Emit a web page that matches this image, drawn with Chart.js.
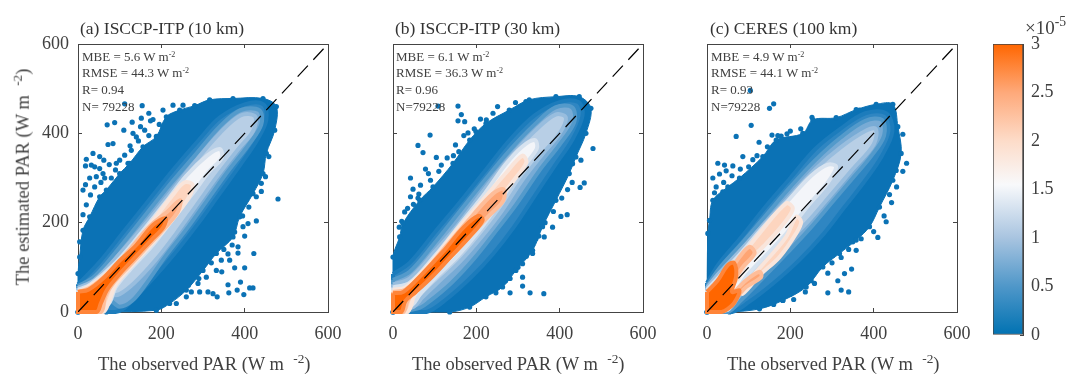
<!DOCTYPE html>
<html lang="en">

<head>
    <meta charset="UTF-8">
    <title>PAR scatter density</title>
    <script src="https://cdn.jsdelivr.net/npm/chart.js@4.4.1/dist/chart.umd.min.js"></script>
    <style>
        body { margin: 0; background: #fff; font-family: "Liberation Serif", serif; color: #404040; }
        #page { position: relative; width: 1069px; height: 374px; overflow: hidden; }
        canvas { position: absolute; top: 0; }
        .txt { position: absolute; white-space: nowrap; line-height: 1; }
        .txt sup { font-size: 62%; line-height: 0; vertical-align: 0.55em; }
        .title { font-size: 17.5px; color: #333; }
        .stat { font-size: 13px; }
        .axis-title { font-size: 18.5px; }
        .axis-title sup, .scale-note sup { font-size: 72%; }
        .scale-note { font-size: 19px; }
    </style>
</head>

<body>
    <div id="page"></div>

    <script>
        // tick labels
        const axisTicks = [0, 200, 400, 600];
        const cbarTicks = [0, 0.5, 1, 1.5, 2, 2.5, 3];

        // panel texts
        const panelTitles = ['(a) ISCCP-ITP (10 km)', '(b) ISCCP-ITP (30 km)', '(c) CERES (100 km)'];
        const statsA = ['MBE = 5.6 W m<sup>-2</sup>', 'RMSE = 44.3 W m<sup>-2</sup>', 'R= 0.94', 'N= 79228'];
        const statsB = ['MBE = 6.1 W m<sup>-2</sup>', 'RMSE = 36.3 W m<sup>-2</sup>', 'R= 0.96', 'N=79228'];
        const statsC = ['MBE = 4.9 W m<sup>-2</sup>', 'RMSE = 44.1 W m<sup>-2</sup>', 'R= 0.93', 'N=79228'];

        // density colours, outer band to inner band, and the softer edge of each band
        const levelColors = ['#0b72b5', '#2f86c2', '#78abd5', '#b8cfe6', '#f3f5f9', '#fdd5bf', '#fea574', '#ff6600'];
        const edgeColors = ['#0b72b5', '#1c7cbc', '#539acb', '#98bdde', '#d6e2ef', '#f9e5db', '#febd99', '#ff8539'];
        const cbarStops = [[0, '#0072b2'], [0.5, '#4f97c9'], [1, '#a8c4e0'], [1.55, '#f8f9fb'], [2, '#fddcc9'], [2.5, '#fea97a'], [3, '#ff6600']];
        const oneToOne = [[0, 0], [600, 600]];

        // panel a : density outlines
        const a0 = [[0,0],[0,86],[4,123],[12,183],[28,213],[52,258],[68,273],[100,310],[124,333],[156,370],[188,393],[212,437],[244,452],[280,462],[316,475],[372,478],[444,478],[476,460],[472,407],[452,355],[444,310],[420,265],[388,213],[372,168],[332,131],[300,93],[260,49],[220,19],[188,4],[68,0],[0,0]];
        const a1 = [[0,62],[50,110],[110,180],[170,250],[230,320],[290,385],[340,435],[400,465],[445,465],[452,430],[430,385],[390,330],[340,265],[290,200],[240,140],[190,85],[140,35],[110,8],[90,0],[0,0],[0,62]];
        const a2 = [[0,58],[40,80],[100,145],[160,215],[220,285],[280,350],[340,415],[390,452],[435,452],[440,420],[410,375],[360,315],[310,250],[260,185],[210,125],[165,65],[130,25],[100,12],[75,25],[0,0],[0,58]];
        const a3 = [[0,54],[40,72],[100,130],[160,195],[220,265],[280,335],[340,400],[390,440],[425,438],[420,405],[385,365],[335,305],[285,240],[235,175],[185,115],[135,65],[100,40],[75,35],[0,0],[0,54]];
        const a4 = [[0,50],[30,62],[90,110],[150,175],[210,245],[260,305],[310,350],[340,365],[345,345],[315,315],[275,265],[225,205],[175,145],[125,95],[90,55],[70,15],[0,0],[0,50]];
        const a5 = [[0,45],[40,65],[90,105],[130,145],[180,205],[230,265],[255,290],[275,285],[265,255],[225,205],[180,155],[130,105],[90,60],[75,25],[60,0],[0,0],[0,45]];
        const a6 = [[0,45],[30,55],[70,85],[120,135],[170,190],[215,225],[245,250],[240,225],[210,190],[170,150],[125,105],[85,65],[65,35],[55,0],[0,0],[0,45]];
        const a7 = [[0,45],[25,50],[60,75],[100,115],[140,150],[180,195],[210,210],[205,190],[175,160],[135,120],[100,85],[70,50],[55,20],[45,0],[0,0],[0,45]];
        const aOut = [[70,419],[88,424],[112,466],[154,462],[180,431],[152,434],[174,428],[110,407],[132,400],[84,377],[72,375],[20,342],[18,327],[32,329],[52,348],[36,355],[12,273],[12,218],[4,157],[44,303],[52,321],[92,333],[112,351],[120,333],[140,392],[160,407],[204,452],[228,463],[252,463],[204,415],[188,385],
            [20,240],[30,262],[40,280],[55,290],[64,300],[80,300],[90,318],[100,340],[128,362],[145,383],[125,372],[170,395],[195,420],[18,285],[28,300],[60,310],[75,330],[40,325],[62,340],[150,415],[130,425],[170,445],
            [480,253],[458,348],[450,303],[440,288],[428,258],[428,204],[408,198],[396,191],[376,179],[384,146],[384,132],[422,131],[400,99],[376,99],[364,116],[344,116],[332,93],[308,78],[360,61],[362,43],[382,49],[390,67],[398,39],[412,54],[420,54],[334,34],[312,45],[292,45],[272,45],[324,41],[288,64],[260,34],[236,19],
            [462,400],[440,270],[410,235],[395,215],[370,150],[350,140],[320,110],[290,75],[265,60],[345,90],[360,130],[400,170]];

        // panel b
        const b0 = [[0,0],[0,123],[16,168],[24,198],[64,250],[96,280],[144,333],[184,385],[223,422],[279,452],[327,475],[391,482],[447,482],[475,456],[463,400],[439,347],[423,310],[391,250],[359,191],[335,138],[295,93],[263,56],[223,34],[184,11],[136,0],[0,0]];
        const b1 = [[0,85],[40,110],[100,178],[160,245],[220,315],[280,385],[340,440],[400,470],[445,470],[455,440],[430,385],[390,330],[340,260],[290,190],[240,130],[190,80],[130,30],[80,0],[0,0],[0,85]];
        const b2 = [[0,72],[40,90],[100,155],[160,225],[220,295],[280,362],[340,420],[390,458],[430,458],[435,425],[400,375],[350,315],[295,240],[250,185],[195,120],[140,65],[85,22],[60,8],[0,0],[0,72]];
        const b3 = [[0,62],[40,75],[100,135],[160,200],[220,275],[280,345],[340,405],[390,442],[415,435],[400,400],[360,355],[310,295],[260,225],[210,165],[160,112],[110,68],[70,32],[50,12],[0,0],[0,62]];
        const b4 = [[0,55],[40,65],[100,125],[160,195],[220,265],[270,330],[310,370],[340,385],[345,365],[300,310],[255,245],[205,180],[155,125],[105,80],[65,40],[45,15],[0,0],[0,55]];
        const b5 = [[0,50],[30,55],[90,110],[150,180],[210,245],[270,310],[310,350],[320,335],[290,295],[240,235],[195,180],[145,130],[100,90],[55,45],[35,0],[0,0],[0,50]];
        const b6 = [[0,45],[30,50],[80,95],[130,150],[190,215],[240,265],[265,275],[265,250],[230,215],[190,175],[140,125],[95,85],[55,50],[35,25],[25,0],[0,0],[0,45]];
        const b7 = [[0,42],[25,45],[70,85],[120,135],[170,190],[205,215],[215,205],[185,170],[140,125],[95,80],[55,45],[30,25],[20,0],[0,0],[0,42]];
        const bOut = [[156,461],[108,461],[164,442],[156,428],[89,396],[172,426],[180,401],[60,373],[72,357],[150,374],[104,346],[78,320],[42,300],[66,284],[48,275],[42,258],[62,264],[49,241],[73,239],[28,224],[21,203],[251,460],[294,469],[319,471],[224,430],[199,404],[158,359],[116,329],
            [90,295],[110,315],[130,345],[145,350],[170,395],[195,410],[210,432],[240,445],[60,255],[35,232],[15,190],[85,310],
            [480,366],[459,289],[449,279],[451,340],[431,332],[419,274],[418,218],[403,214],[383,190],[363,168],[343,164],[327,146],[335,131],[311,108],[291,108],[311,78],[281,75],[311,58],[281,43],[329,43],[362,41],[247,43],
            [430,290],[405,255],[385,225],[365,200],[350,170],[320,125],[300,100],[270,70],[245,55]];

        // panel c : the inner peach part splits in two arms either side of the 1:1 line
        const c0 = [[0,0],[2,176],[6,205],[14,250],[50,280],[78,300],[134,348],[166,385],[230,400],[254,430],[310,435],[358,453],[406,465],[446,465],[458,415],[466,355],[446,295],[414,235],[390,191],[358,161],[318,131],[278,101],[238,56],[182,26],[126,7],[54,0],[0,0]];
        const c1 = [[0,65],[30,110],[80,165],[140,235],[200,300],[260,365],[320,410],[380,445],[430,445],[445,405],[420,350],[380,295],[330,235],[280,175],[220,115],[160,65],[100,22],[60,0],[0,0],[0,65]];
        const c2 = [[0,58],[30,98],[80,150],[140,215],[200,280],[260,340],[320,390],[380,428],[420,430],[425,395],[395,350],[350,300],[300,245],[250,190],[190,130],[130,72],[80,25],[50,0],[0,0],[0,58]];
        const c3 = [[0,55],[30,88],[80,138],[140,200],[200,260],[260,320],[320,368],[380,405],[405,410],[400,375],[350,320],[300,265],[240,200],[180,145],[125,90],[80,40],[50,5],[0,0],[0,55]];
        const c4 = [[0,50],[30,80],[80,130],[135,190],[190,245],[250,305],[290,330],[310,325],[290,290],[240,235],[190,175],[140,125],[95,80],[65,35],[50,5],[0,0],[0,50]];
        const c5 = [[46,85],[62,101],[126,176],[190,243],[206,232],[190,205],[142,153],[94,108],[70,70],[46,85]];
        const c5b = [[78,49],[110,82],[150,123],[190,168],[214,213],[226,202],[214,176],[174,123],[126,82],[86,41],[78,49]];
        const c6 = [[46,78],[78,123],[102,146],[114,131],[86,101],[62,71],[46,78]];
        const c6b = [[62,41],[94,71],[126,90],[130,78],[94,56],[70,34],[62,41]];
        const c7 = [[0,45],[25,70],[50,105],[65,110],[70,80],[60,45],[78,48],[65,20],[50,7],[35,0],[0,0],[0,45]];
        const cOut = [[104,496],[160,466],[150,456],[106,418],[70,393],[125,380],[156,396],[178,394],[192,399],[86,348],[110,341],[26,333],[42,329],[62,327],[14,300],[30,309],[46,316],[22,280],[18,267],[38,269],[252,436],[366,452],
            [40,290],[60,305],[80,320],[100,325],[120,350],[145,370],[170,395],[200,405],[225,410],
            [479,333],[470,398],[470,315],[454,317],[443,245],[438,263],[430,202],[410,167],[370,164],[350,157],[358,138],[322,122],[302,127],[347,96],[330,86],[290,87],[266,102],[314,70],[290,43],[322,49],[340,45],[236,45],[258,64],[222,64],[208,28],[182,26],[160,17],[130,19],
            [455,280],[425,215],[400,180],[340,140],[300,110],[250,70],[200,40]];

        // which colour each band of a panel takes
        const levelsAB = [0, 1, 2, 3, 4, 5, 6, 7];
        const levelsC = [0, 1, 2, 3, 4, 5, 5, 6, 6, 7];

        const page = document.getElementById('page');
        const plotTop = 44, plotH = 268;
        const axisColor = '#444';
        const tickFont = { family: '"Liberation Serif", serif', size: 18 };

        function addText(cls, left, top, html, extra) {
            const d = document.createElement('div');
            d.className = 'txt ' + cls;
            d.style.left = left + 'px';
            d.style.top = top + 'px';
            d.innerHTML = html;
            if (extra) d.style.transform = extra;
            page.appendChild(d);
            return d;
        }

        // fixed axis sizes so all panels get the same plot box
        const axisSizes = { left: 60, bottom: 374 - plotTop - plotH, top: 0, right: 0 };
        function fixSize(scale) {
            if (scale.isHorizontal()) scale.height = axisSizes[scale.options.position];
            else scale.width = axisSizes[scale.options.position];
            scale.paddingLeft = scale.paddingRight = scale.paddingTop = scale.paddingBottom = 0;
        }

        function edgeAxis(position, showLabels) {
            return {
                type: 'linear', position: position, min: 0, max: 600,
                afterFit: fixSize,
                afterBuildTicks: function (axis) { axis.ticks = axisTicks.map(function (v) { return { value: v }; }); },
                grid: { drawOnChartArea: false, tickLength: -4, color: axisColor, tickWidth: 1 },
                border: { color: axisColor, width: 1 },
                ticks: {
                    display: showLabels, font: tickFont, color: '#404040', maxRotation: 0, autoSkip: false,
                    padding: position === 'bottom' ? 15 : 13
                }
            };
        }

        function panel(plotLeft, bands, levels, outliers, showY) {
            const canvas = document.createElement('canvas');
            canvas.width = 330; canvas.height = 374;
            canvas.style.left = (plotLeft - 60) + 'px';
            page.appendChild(canvas);

            const datasets = [{
                data: oneToOne, showLine: true, borderColor: '#000', borderWidth: 1.2,
                borderDash: [15, 8], pointRadius: 0, fill: false, order: 0
            }];
            bands.forEach(function (band, i) {
                const lv = levels[i];
                datasets.push({
                    data: band, showLine: true, fill: 'shape', tension: 0.35, clip: false,
                    backgroundColor: levelColors[lv], borderColor: edgeColors[lv], borderWidth: lv ? 4 : 1,
                    pointRadius: lv ? 0 : 2.6, pointBackgroundColor: levelColors[lv], pointBorderWidth: 0,
                    order: bands.length - i + 1
                });
            });
            datasets.push({
                data: outliers, showLine: false, clip: false, pointRadius: 2.6,
                pointBackgroundColor: levelColors[0], pointBorderWidth: 0, order: bands.length + 2
            });

            new Chart(canvas.getContext('2d'), {
                type: 'scatter',
                data: { datasets: datasets },
                options: {
                    responsive: false, animation: false,
                    layout: { padding: { left: 0, right: 20, top: plotTop, bottom: 0 } },
                    plugins: { legend: { display: false }, tooltip: { enabled: false } },
                    scales: {
                        x: edgeAxis('bottom', true),
                        y: edgeAxis('left', showY),
                        x2: edgeAxis('top', false),
                        y2: edgeAxis('right', false)
                    }
                }
            });
        }

        panel(78, [a0, a1, a2, a3, a4, a5, a6, a7], levelsAB, aOut, true);
        panel(393, [b0, b1, b2, b3, b4, b5, b6, b7], levelsAB, bOut, false);
        panel(707, [c0, c1, c2, c3, c4, c5, c5b, c6, c6b, c7], levelsC, cOut, false);

        // colour bar
        const cbarCanvas = document.createElement('canvas');
        cbarCanvas.width = 109; cbarCanvas.height = 374;
        cbarCanvas.style.left = '960px';
        page.appendChild(cbarCanvas);
        new Chart(cbarCanvas.getContext('2d'), {
            type: 'bar',
            data: {
                labels: ['density'],
                datasets: [{
                    data: [[cbarTicks[0], cbarTicks[cbarTicks.length - 1]]],
                    barPercentage: 1, categoryPercentage: 1, borderWidth: 1, borderColor: axisColor,
                    borderSkipped: false,
                    backgroundColor: function (context) {
                        const area = context.chart.chartArea;
                        if (!area) return '#0072b2';
                        const y = context.chart.scales.y;
                        const g = context.chart.ctx.createLinearGradient(0, y.getPixelForValue(0), 0, y.getPixelForValue(3));
                        cbarStops.forEach(function (s) { g.addColorStop(s[0] / 3, s[1]); });
                        return g;
                    }
                }]
            },
            options: {
                responsive: false, animation: false,
                layout: { padding: { left: 33, right: 0, top: 44, bottom: 39 } },
                plugins: { legend: { display: false }, tooltip: { enabled: false } },
                scales: {
                    x: { display: false },
                    y: {
                        position: 'right', min: 0, max: 3,
                        afterFit: function (scale) { scale.width = 46; },
                        afterBuildTicks: function (axis) { axis.ticks = cbarTicks.map(function (v) { return { value: v }; }); },
                        grid: { drawOnChartArea: false, tickLength: -3, color: axisColor },
                        border: { color: axisColor },
                        ticks: {
                            font: tickFont, color: '#404040', padding: 11, autoSkip: false,
                            callback: function (v) { return String(v); }
                        }
                    }
                }
            }
        });

        // texts
        const titleLeft = [80, 395, 710];
        const statLeft = [82, 396, 711];
        const xTitleLeft = [98, 412, 727];
        [statsA, statsB, statsC].forEach(function (lines, p) {
            addText('title', titleLeft[p], 20, panelTitles[p]);
            lines.forEach(function (line, i) {
                addText('stat', statLeft[p], 49.5 + i * 16.7, line);
            });
            addText('axis-title', xTitleLeft[p], 355, 'The observed PAR (W m &nbsp;<sup>-2</sup>)');
        });
        addText('axis-title', 23, 177, 'The estimated PAR (W m &nbsp;<sup>-2</sup>)', 'translate(-50%, -50%) rotate(-90deg)');
        addText('scale-note', 1025, 18, '×10<sup>-5</sup>');
    </script>
</body>

</html>
